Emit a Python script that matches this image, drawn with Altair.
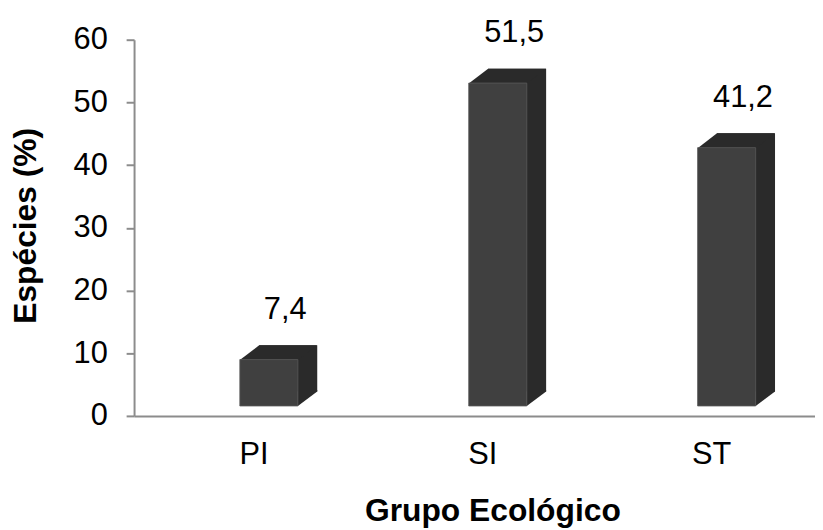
import json
import altair as alt
import pandas as pd

# ---- data ----
categories = ["PI", "SI", "ST"]
values = [7.4, 51.5, 41.2]
y_ticks = [0, 10, 20, 30, 40, 50, 60]

df = pd.DataFrame({
    "grupo": categories,
    "valor": values,
    "idx": list(range(len(categories))),
})

# ---- layout / style ----
W, H = 686, 379
STEP = 234
FONT = "Liberation Sans"
FRONT = "#404040"
DARK = "#2a2a2a"
BW = 58.5      # bar front width
OFF = 15.5     # front face offset from category centre
DX, DY = 19.5, 14.5   # 3D depth
LIFT = -10     # bars float slightly above the axis

xdom = [-0.5, -0.5 + W / STEP]

x_axis = alt.Axis(
    values=list(range(len(categories))),
    labelExpr=json.dumps(categories) + "[datum.value]",
    title="Grupo Ecológico",
    titleFont=FONT, titleFontSize=32, titleFontWeight="bold", titleColor="black",
    titleX=361, titleY=105, titleBaseline="alphabetic", titleAlign="center",
    labelFont=FONT, labelFontSize=31, labelColor="black", labelPadding=24,
    labelAngle=0,
    ticks=False, tickSize=0, grid=False,
    domainColor="#8c8c8c", domainWidth=2,
)
y_axis = alt.Axis(
    values=y_ticks,
    title="Espécies (%)",
    titleFont=FONT, titleFontSize=32, titleFontWeight="bold", titleColor="black",
    titleAngle=-90, titleX=-109, titleY=187, titleBaseline="middle", titleAlign="center",
    labelFont=FONT, labelFontSize=31, labelColor="black", labelPadding=19,
    tickSize=8, tickColor="#8c8c8c", tickWidth=2,
    domainColor="#8c8c8c", domainWidth=2, grid=False,
)
x_scale = alt.Scale(domain=xdom, nice=False, zero=False)
y_scale = alt.Scale(domain=[0, 60], nice=False)

x_enc = alt.X("idx:Q", scale=x_scale, axis=x_axis)
y_enc = alt.Y("valor:Q", scale=y_scale, axis=y_axis)
y_zero = alt.Y("zero:Q", scale=y_scale, axis=y_axis)

base = alt.Chart(df)

back = base.mark_bar(color=DARK, width=BW, xOffset=OFF + DX,
                     yOffset=LIFT - DY, y2Offset=LIFT - DY).encode(
    x=x_enc, y=y_enc, y2=alt.datum(0)
)

top_path = f"M{-BW/2},0.5 L{BW/2},0.5 L{BW/2+DX},{-DY} L{-BW/2+DX},{-DY} Z"
top = base.mark_point(shape=top_path, size=4, filled=True, opacity=1, color=DARK,
                      strokeWidth=0, xOffset=OFF, yOffset=LIFT).encode(
    x=x_enc, y=y_enc
)

bot_path = f"M{BW/2-0.5},0 L{BW/2},0 L{BW/2+DX},{-DY} L{BW/2+DX},{-DY-1.5} L{BW/2-0.5},{-DY-1.5} Z"
bottom = base.transform_calculate(zero="0").mark_point(
    shape=bot_path, size=4, filled=True, opacity=1, color=DARK,
    strokeWidth=0, xOffset=OFF, yOffset=LIFT).encode(
    x=x_enc, y=y_zero
)

front = base.mark_bar(color=FRONT, width=BW, xOffset=OFF, yOffset=LIFT, y2Offset=LIFT,
                      stroke="#5a5a5a", strokeWidth=0.8).encode(
    x=x_enc, y=y_enc, y2=alt.datum(0)
)

labels = base.transform_calculate(
    lbl="replace(format(datum.valor, '.1f'), '.', ',')"
).mark_text(font=FONT, fontSize=31, color="black", baseline="middle", align="center",
            xOffset=32, yOffset=-60).encode(
    x=x_enc, y=y_enc, text="lbl:N"
)

chart = alt.layer(back, top, bottom, front, labels).properties(
    width=W, height=H,
    autosize=alt.AutoSizeParams(type="none"),
    padding={"left": 127, "top": 30, "right": 0, "bottom": 113},
    background="white",
).configure_view(stroke=None)

chart.save("out.html", embed_options={"renderer": "svg", "actions": False})
